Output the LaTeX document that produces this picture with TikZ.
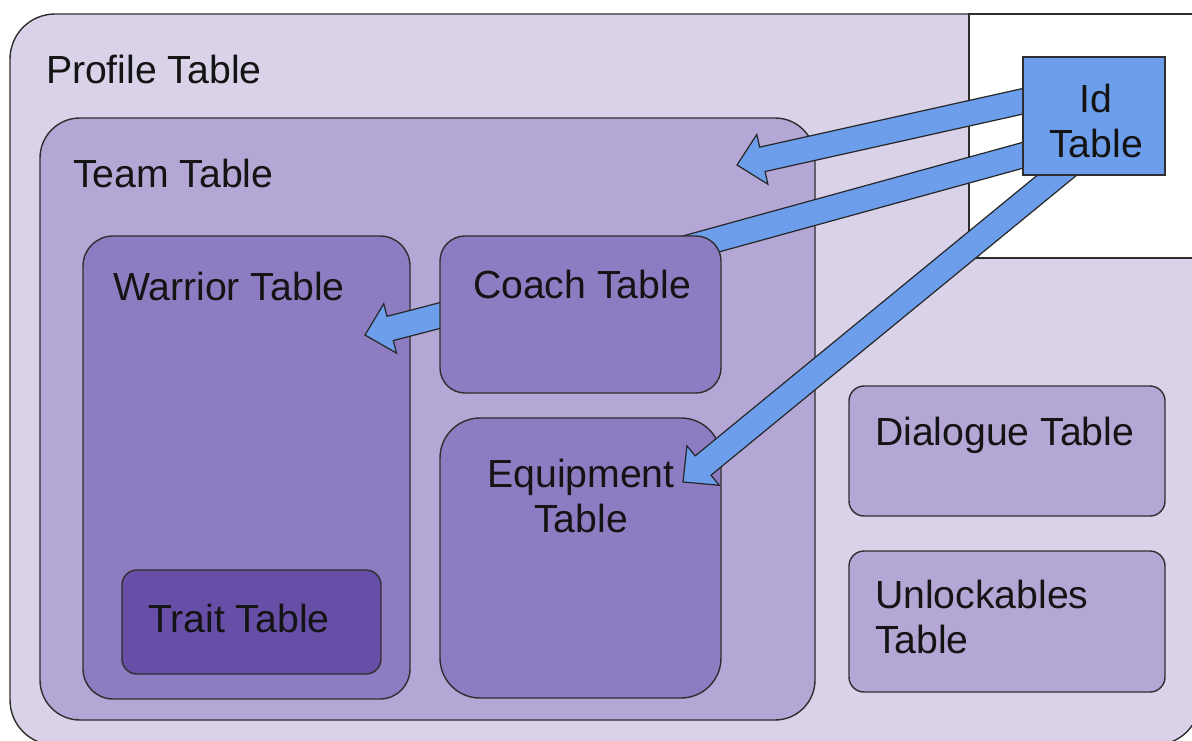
\documentclass[tikz,border=0pt]{standalone}
\usepackage{fontspec}
\setmainfont{Liberation Sans}
\usetikzlibrary{calc}

\definecolor{profileC}{HTML}{D9D2E9}
\definecolor{teamC}{HTML}{B4A7D6}
\definecolor{midC}{HTML}{8E7CC3}
\definecolor{traitC}{HTML}{674EA7}
\definecolor{idC}{HTML}{6D9EEB}
\definecolor{edgeC}{HTML}{2E2E2E}

\tikzset{
  tbl/.style={draw=edgeC, line width=1.4pt, rectangle, inner sep=0pt, outer sep=0pt, anchor=north west},
  lbl/.style={inner sep=0pt, outer sep=0pt, font=\fontsize{39.2pt}{45pt}\selectfont, text=black!92},
  barrow/.style={draw=black!85, fill=idC, line width=1.2pt, line join=miter},
}

% block arrow from tail #1 to tip #2
\newcommand\blockarrow[2]{%
  \coordinate (ba-h) at ($(#2)!26pt!(#1)$);
  \draw[barrow] ($(#1)!12.5pt!90:(#2)$) -- ($(ba-h)!12.5pt!90:(#2)$)
    -- ($(ba-h)!25.5pt!90:(#2)$) -- (#2) -- ($(ba-h)!25.5pt!-90:(#2)$)
    -- ($(ba-h)!12.5pt!-90:(#2)$) -- ($(#1)!12.5pt!-90:(#2)$) -- cycle;
}

\begin{document}
\begin{tikzpicture}[x=1pt, y=-1pt]
\useasboundingbox (0,0) rectangle (1192,740);
\clip (0,0) rectangle (1192,740);

% outer profile table and the free corner
\node[tbl, fill=profileC, rounded corners=45pt, minimum width=1190pt, minimum height=731pt] (profile) at (10,14) {};
\node[tbl, fill=white, minimum width=240pt, minimum height=244pt] (corner) at (969,14) {};
\node[lbl, anchor=base west] (profileL) at (46,83) {Profile Table};

% team table
\node[tbl, fill=teamC, rounded corners=40pt, minimum width=775pt, minimum height=602pt] (team) at (40,118) {};
\node[lbl, anchor=base west] (teamL) at (73,187) {Team Table};

% warrior and trait tables
\node[tbl, fill=midC, rounded corners=30pt, minimum width=327pt, minimum height=463pt] (warrior) at (83,236) {};
\node[lbl, anchor=base west] (warriorL) at (113,300) {Warrior Table};
\node[tbl, fill=traitC, rounded corners=15pt, minimum width=259pt, minimum height=104pt] (trait) at (122,570) {};
\node[lbl, anchor=base west] (traitL) at (148,632) {Trait Table};

% arrow tails and tips
\coordinate (a1s) at (1042,97);
\coordinate (a1e) at (737,165);
\coordinate (a2s) at (1042,150);
\coordinate (a2e) at (590,274.5);
\coordinate (a3s) at (1071.5,163.3);
\coordinate (a3e) at (683,482);
\coordinate (a4s) at (470,307.7);
\coordinate (a4e) at (365,335);

% arrows that run under the coach table
\blockarrow{a4s}{a4e}
\blockarrow{a2s}{a2e}

% coach and equipment tables
\node[tbl, fill=midC, rounded corners=25pt, minimum width=281pt, minimum height=157pt] (coach) at (440,236) {};
\node[lbl, anchor=base west] (coachL) at (473,298) {Coach Table};
\node[tbl, fill=midC, rounded corners=40pt, minimum width=281pt, minimum height=280pt] (equip) at (440,418) {};
\node[lbl, anchor=base, align=center] (equipL) at (581,532) {Equipment\\Table};

% arrows on top
\blockarrow{a1s}{a1e}
\blockarrow{a3s}{a3e}

% dialogue and unlockables tables
\node[tbl, fill=teamC, rounded corners=15pt, minimum width=316pt, minimum height=130pt] (dialogue) at (849,386) {};
\node[lbl, anchor=base west] (dialogueL) at (875,445) {Dialogue Table};
\node[tbl, fill=teamC, rounded corners=15pt, minimum width=316pt, minimum height=141pt] (unlock) at (849,551) {};
\node[lbl, anchor=base west, align=left] (unlockL) at (875,653) {Unlockables\\Table};

% id table
\node[tbl, fill=idC, minimum width=142pt, minimum height=118pt] (id) at (1023,57) {};
\node[lbl, anchor=base, align=center] (idL) at (1096,157) {Id\\Table};
\end{tikzpicture}
\end{document}
